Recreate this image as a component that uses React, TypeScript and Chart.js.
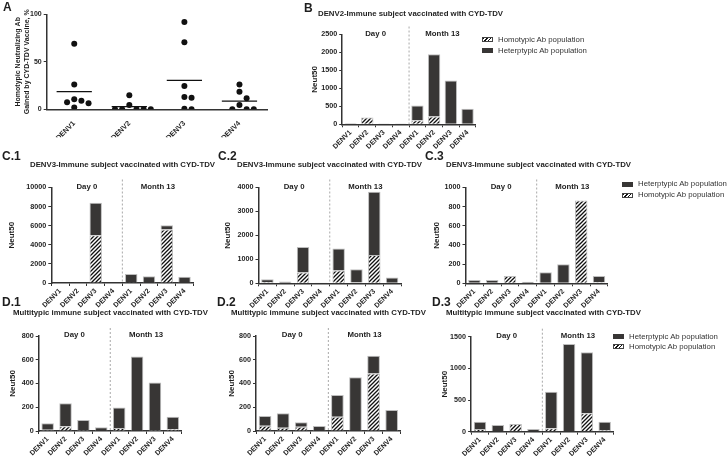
import React, { useEffect, useRef } from "react";
import { Chart, registerables } from "chart.js";
Chart.register(...registerables);

const FONT = '"Liberation Sans", Arial, Helvetica, sans-serif';
const INK = "#1e1e1e";
const DARK = "#383635";
const EDGE = "#bdbdbd";

// ---------------- data ----------------
const serotypes = ["DENV1", "DENV2", "DENV3", "DENV4"];
const barCategories = [...serotypes, ...serotypes];
const periods = ["Day 0", "Month 13"];
const homoLabel = "Homotypic Ab population";
const heteroLabel = "Heterptypic Ab population";

// Panel A: homotypic neutralizing Ab gained (%), one value per subject
const aDenv1 = [69, 26, 10.5, 9, 7.4, 6.3, 2];
const aDenv2 = [14.7, 4.5, 0, 0, 0, 0, 0];
const aDenv3 = [92, 70.5, 24.5, 13, 12.2, 0.6, 0];
const aDenv4 = [26, 18.5, 11.6, 4.5, 0, 0, 0];
const aGroups = [aDenv1, aDenv2, aDenv3, aDenv4];
const aMax = 100;
const aStep = 50;

// Panel B: DENV2-immune subject
const bHomo = [0, 188, 0, 0, 110, 215, 0, 0];
const bHetero = [28, 0, 25, 25, 410, 1735, 1220, 430];
// Panel C.1
const c1Homo = [0, 0, 5000, 40, 80, 0, 5600, 0];
const c1Hetero = [60, 50, 3400, 0, 860, 700, 450, 660];
// Panel C.2
const c2Homo = [50, 0, 446, 0, 530, 30, 1178, 0];
const c2Hetero = [115, 70, 1074, 15, 925, 557, 2644, 240];
// Panel C.3
const c3Homo = [0, 0, 75, 0, 0, 0, 863, 10];
const c3Hetero = [35, 35, 0, 15, 115, 200, 0, 65];
// Panel D.1
const d1Homo = [10, 40, 8, 0, 25, 0, 8, 15];
const d1Hetero = [55, 194, 85, 31, 172, 627, 400, 106];
// Panel D.2
const d2Homo = [45, 28, 36, 0, 121, 0, 485, 0];
const d2Hetero = [81, 121, 37, 42, 183, 453, 148, 177];
// Panel D.3
const d3Homo = [42, 0, 122, 0, 53, 0, 290, 26];
const d3Hetero = [116, 106, 0, 43, 579, 1386, 964, 132];

const titleC = "DENV3-Immune subject vaccinated with CYD-TDV";
const titleB = "DENV2-Immune subject vaccinated with CYD-TDV";
const titleD = "Multitypic immune subject vaccinated with CYD-TDV";
const aAxisTitle = ["Homotypic Neutralizing Ab", "Gained by CYD-TDV Vaccine, %"];

// ---------------- layout ----------------
type Box = { left: number; right: number; top: number; bottom: number; scaleLeft: number };

function frame(b: Box, xH: number) {
  const cl = Math.floor(b.scaleLeft) - 1;
  const ct = Math.floor(b.top) - 10;
  const cr = Math.ceil(b.right) + 8;
  const cb = Math.ceil(b.bottom + xH) + 1;
  return {
    cl,
    ct,
    w: cr - cl,
    h: cb - ct,
    padding: { left: b.scaleLeft - cl, top: b.top - ct, right: cr - b.right, bottom: cb - (b.bottom + xH) },
    yW: b.left - b.scaleLeft,
    xH,
  };
}

let hatchCache: CanvasPattern | null = null;
function hatch(): CanvasPattern {
  if (hatchCache) return hatchCache;
  const c = document.createElement("canvas");
  c.width = 4;
  c.height = 4;
  const g = c.getContext("2d")!;
  g.fillStyle = "#fff";
  g.fillRect(0, 0, 4, 4);
  g.strokeStyle = "#111";
  g.lineWidth = 1.3;
  g.beginPath();
  g.moveTo(-1, 5);
  g.lineTo(5, -1);
  g.moveTo(-1, 1);
  g.lineTo(1, -1);
  g.moveTo(3, 5);
  g.lineTo(5, 3);
  g.stroke();
  hatchCache = g.createPattern(c, "repeat")!;
  return hatchCache;
}

const groupPlugin = {
  id: "groups",
  afterDatasetsDraw(chart: any) {
    const { ctx, chartArea, scales } = chart;
    const x = scales.x;
    const p = (i: number) => x.getPixelForValue(i);
    const mid = (p(3) + p(4)) / 2;
    ctx.save();
    ctx.strokeStyle = "#a8a8a8";
    ctx.lineWidth = 1;
    ctx.setLineDash([2, 2]);
    ctx.beginPath();
    ctx.moveTo(mid, chartArea.top - 8);
    ctx.lineTo(mid, chartArea.bottom);
    ctx.stroke();
    ctx.setLineDash([]);
    ctx.fillStyle = INK;
    ctx.font = `bold 7.8px ${FONT}`;
    ctx.textAlign = "center";
    ctx.textBaseline = "middle";
    ctx.fillText(periods[0], (p(0) + p(3)) / 2, chartArea.top - 1);
    ctx.fillText(periods[1], (p(4) + p(7)) / 2, chartArea.top - 1);
    ctx.restore();
  },
};

const axisGrid = { display: true, drawOnChartArea: false, drawTicks: true, tickLength: 3, color: "#333", lineWidth: 1 };
const axisBorder = { display: true, color: "#333", width: 1.5 };
const plainNumber = (v: any) => String(v);

type BarProps = { homo: number[]; hetero: number[]; max: number; step: number; box: Box; barPct: number };

function BarPanel({ homo, hetero, max, step, box, barPct }: BarProps) {
  const ref = useRef<HTMLCanvasElement>(null);
  const f = frame(box, 30);
  useEffect(() => {
    const chart = new Chart(ref.current!, {
      type: "bar",
      data: {
        labels: barCategories,
        datasets: [
          {
            label: homoLabel,
            data: homo,
            backgroundColor: hatch(),
            borderColor: EDGE,
            borderWidth: 1,
            barPercentage: barPct,
            categoryPercentage: 1,
          },
          {
            label: heteroLabel,
            data: hetero,
            backgroundColor: DARK,
            borderColor: EDGE,
            borderWidth: 1,
            barPercentage: barPct,
            categoryPercentage: 1,
          },
        ],
      },
      options: {
        responsive: false,
        animation: false,
        layout: { padding: f.padding },
        plugins: { legend: { display: false }, tooltip: { enabled: false } },
        scales: {
          x: {
            stacked: true,
            grid: axisGrid,
            border: axisBorder,
            ticks: {
              font: { family: FONT, size: 7, weight: "bold" },
              color: INK,
              minRotation: 45,
              maxRotation: 45,
              autoSkip: false,
              padding: 1,
            },
            afterFit: (s: any) => {
              s.height = f.xH;
            },
          },
          y: {
            stacked: true,
            min: 0,
            max,
            ticks: {
              stepSize: step,
              callback: plainNumber,
              font: { family: FONT, size: 7.2, weight: "bold" },
              color: INK,
              padding: 2,
            },
            grid: axisGrid,
            border: axisBorder,
            title: { display: true, text: "Neut50", font: { family: FONT, size: 8, weight: "bold" }, color: INK, padding: 0 },
            afterFit: (s: any) => {
              s.width = f.yW;
            },
          },
        },
      } as any,
      plugins: [groupPlugin],
    });
    return () => chart.destroy();
  }, []);
  return (
    <canvas
      ref={ref}
      width={f.w}
      height={f.h}
      style={{ position: "absolute", left: f.cl, top: f.ct, width: f.w, height: f.h }}
    />
  );
}

// simple beeswarm so that dots with close values sit side by side
function swarm(values: number[], idx: number) {
  const dx = 0.13;
  const vy = 7.4;
  const placed: { x: number; y: number }[] = [];
  const order = values.map((_, i) => i).sort((a, b) => values[b] - values[a]);
  const out: { x: number; y: number }[] = new Array(values.length);
  for (const i of order) {
    const v = values[i];
    for (let k = 0; k < 30; k++) {
      const off = k === 0 ? 0 : (k % 2 ? 1 : -1) * Math.ceil(k / 2) * dx;
      const ok = placed.every((p) => Math.hypot((p.x - off) / dx, (p.y - v) / vy) >= 0.999);
      if (ok) {
        placed.push({ x: off, y: v });
        out[i] = { x: idx + off, y: v };
        break;
      }
    }
  }
  return out;
}

function ScatterPanel() {
  const ref = useRef<HTMLCanvasElement>(null);
  const box: Box = { left: 46.7, right: 267, top: 14.3, bottom: 109.3, scaleLeft: 14.2 };
  const f = frame(box, 28);
  useEffect(() => {
    const points = aGroups.flatMap((g, i) => swarm(g, i));
    const means = aGroups.map((g) => g.reduce((s, v) => s + v, 0) / g.length);
    const chart = new Chart(ref.current!, {
      type: "scatter",
      data: {
        datasets: [
          { data: points, backgroundColor: "#111", borderColor: "#111", pointRadius: 3, pointBorderWidth: 0 },
          ...means.map((m, i) => ({
            data: [
              { x: i - 0.32, y: m },
              { x: i + 0.32, y: m },
            ],
            showLine: true,
            borderColor: "#111",
            borderWidth: 1.2,
            pointRadius: 0,
          })),
        ],
      },
      options: {
        responsive: false,
        animation: false,
        layout: { padding: f.padding },
        plugins: { legend: { display: false }, tooltip: { enabled: false } },
        scales: {
          x: {
            type: "linear",
            min: -0.5,
            max: 3.5,
            afterBuildTicks: (s: any) => {
              s.ticks = serotypes.map((_, i) => ({ value: i }));
            },
            ticks: {
              callback: (v: any) => serotypes[Math.round(v)],
              font: { family: FONT, size: 7.2, weight: "bold" },
              color: INK,
              minRotation: 45,
              maxRotation: 45,
              autoSkip: false,
              padding: 2,
            },
            grid: { display: false },
            border: axisBorder,
            afterFit: (s: any) => {
              s.height = f.xH;
            },
          },
          y: {
            min: 0,
            max: aMax,
            ticks: {
              stepSize: aStep,
              callback: plainNumber,
              font: { family: FONT, size: 7, weight: "bold" },
              color: INK,
              padding: 2,
            },
            grid: axisGrid,
            border: axisBorder,
            title: { display: true, text: aAxisTitle, font: { family: FONT, size: 7, weight: "bold" }, color: INK, padding: 0 },
            afterFit: (s: any) => {
              s.width = f.yW;
            },
          },
        },
      } as any,
    });
    return () => chart.destroy();
  }, []);
  return (
    <canvas
      ref={ref}
      width={f.w}
      height={f.h}
      style={{ position: "absolute", left: f.cl, top: f.ct, width: f.w, height: f.h }}
    />
  );
}

const NT = 4.8; // half line height of the "Neut50" title
const barPanels: (BarProps & { key: string })[] = [
  { key: "B", homo: bHomo, hetero: bHetero, max: 2500, step: 500, barPct: 0.74, box: { left: 342.2, right: 475.9, top: 34.5, bottom: 124.3, scaleLeft: 315 - NT } },
  { key: "C1", homo: c1Homo, hetero: c1Hetero, max: 10000, step: 2000, barPct: 0.7, box: { left: 51.3, right: 193.4, top: 187.5, bottom: 283, scaleLeft: 11.7 - NT } },
  { key: "C2", homo: c2Homo, hetero: c2Hetero, max: 4000, step: 1000, barPct: 0.7, box: { left: 258.5, right: 401, top: 187.5, bottom: 283.3, scaleLeft: 228 - NT } },
  { key: "C3", homo: c3Homo, hetero: c3Hetero, max: 1000, step: 200, barPct: 0.7, box: { left: 465.5, right: 607.9, top: 187.5, bottom: 283.3, scaleLeft: 437 - NT } },
  { key: "D1", homo: d1Homo, hetero: d1Hetero, max: 800, step: 200, barPct: 0.7, box: { left: 38.7, right: 181.8, top: 336, bottom: 431, scaleLeft: 12.7 - NT } },
  { key: "D2", homo: d2Homo, hetero: d2Hetero, max: 800, step: 200, barPct: 0.7, box: { left: 256, right: 400.7, top: 336, bottom: 431, scaleLeft: 232 - NT } },
  { key: "D3", homo: d3Homo, hetero: d3Hetero, max: 1500, step: 500, barPct: 0.7, box: { left: 471.1, right: 613.6, top: 336.7, bottom: 431.7, scaleLeft: 445 - NT } },
];

const texts = [
  { t: "A", x: 3, cy: 7, size: 12, bold: true },
  { t: "B", x: 304, cy: 8, size: 12, bold: true },
  { t: titleB, x: 318, cy: 14, size: 7.8, bold: true },
  { t: "C.1", x: 2, cy: 156, size: 12, bold: true },
  { t: titleC, x: 30, cy: 165, size: 7.8, bold: true },
  { t: "C.2", x: 218, cy: 156, size: 12, bold: true },
  { t: titleC, x: 237, cy: 165, size: 7.8, bold: true },
  { t: "C.3", x: 425, cy: 156, size: 12, bold: true },
  { t: titleC, x: 446, cy: 165, size: 7.8, bold: true },
  { t: "D.1", x: 2, cy: 302, size: 12, bold: true },
  { t: titleD, x: 13, cy: 313, size: 7.8, bold: true },
  { t: "D.2", x: 217, cy: 302, size: 12, bold: true },
  { t: titleD, x: 231, cy: 313, size: 7.8, bold: true },
  { t: "D.3", x: 432, cy: 302, size: 12, bold: true },
  { t: titleD, x: 446, cy: 313, size: 7.8, bold: true },
];

const legends = [
  { key: "LB", x: 482, y: 39.3, gap: 11.4, items: [{ label: homoLabel, hatched: true }, { label: heteroLabel, hatched: false }] },
  { key: "LC", x: 622, y: 184, gap: 11, items: [{ label: heteroLabel, hatched: false }, { label: homoLabel, hatched: true }] },
  { key: "LD", x: 613, y: 336.5, gap: 10, items: [{ label: heteroLabel, hatched: false }, { label: homoLabel, hatched: true }] },
];

function Text({ t, x, cy, size, bold }: { t: string; x: number; cy: number; size: number; bold: boolean }) {
  return (
    <div
      style={{
        position: "absolute",
        left: x,
        top: cy - size * 0.6,
        fontSize: size,
        lineHeight: `${size * 1.2}px`,
        fontWeight: bold ? 700 : 400,
        fontFamily: FONT,
        color: INK,
        whiteSpace: "nowrap",
        willChange: "transform",
      }}
    >
      {t}
    </div>
  );
}

function Legend({ x, y, gap, items }: { x: number; y: number; gap: number; items: { label: string; hatched: boolean }[] }) {
  return (
    <>
      {items.map((it, i) => (
        <React.Fragment key={i}>
          <div
            style={{
              position: "absolute",
              left: x,
              top: y + i * gap - 2.5,
              width: 11,
              height: 5,
              boxSizing: "border-box",
              border: `1px solid ${it.hatched ? "#444" : DARK}`,
              background: it.hatched ? "repeating-linear-gradient(135deg, #111 0 1px, #fff 1px 2.6px)" : DARK,
            }}
          />
          <div
            style={{
              position: "absolute",
              left: x + 16,
              top: y + i * gap - 4.7,
              fontSize: 7.8,
              lineHeight: "9.4px",
              fontFamily: FONT,
              color: "#333",
              whiteSpace: "nowrap",
              willChange: "transform",
            }}
          >
            {it.label}
          </div>
        </React.Fragment>
      ))}
    </>
  );
}

export default function App() {
  return (
    <div style={{ position: "fixed", left: 0, top: 0, width: 728, height: 456, background: "#fff", overflow: "hidden" }}>
      <ScatterPanel />
      {barPanels.map((p) => (
        <BarPanel key={p.key} homo={p.homo} hetero={p.hetero} max={p.max} step={p.step} box={p.box} barPct={p.barPct} />
      ))}
      {texts.map((t, i) => (
        <Text key={i} {...t} />
      ))}
      {legends.map((l) => (
        <Legend key={l.key} x={l.x} y={l.y} gap={l.gap} items={l.items} />
      ))}
    </div>
  );
}
